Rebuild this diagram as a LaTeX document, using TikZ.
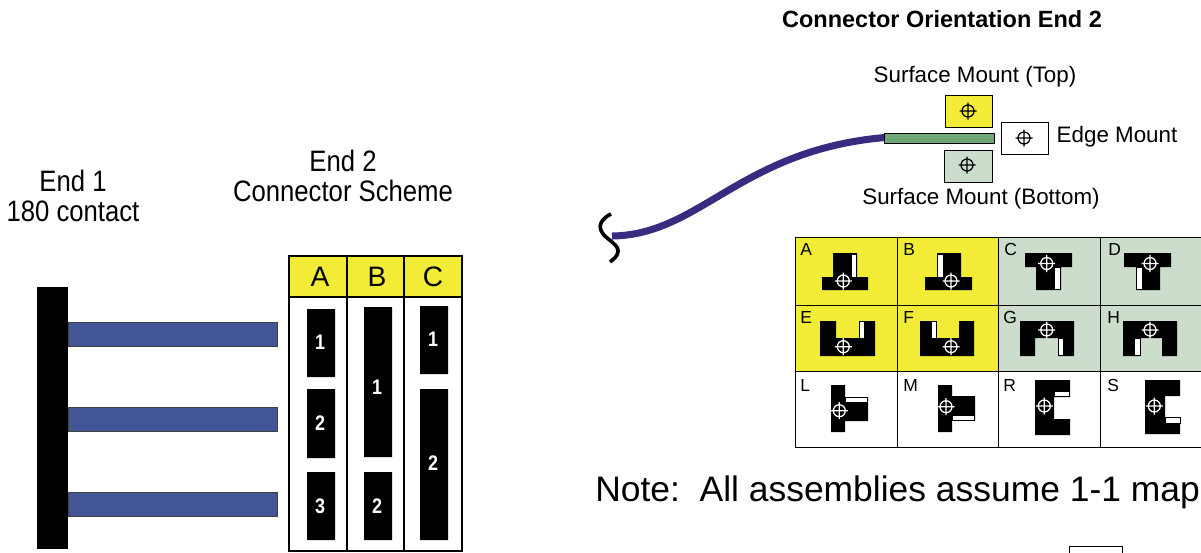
\documentclass[tikz,border=0pt]{standalone}
\usepackage{fontspec}
\setmainfont{Liberation Sans}
\newfontfamily\narrowfont[FakeStretch=0.87]{Liberation Sans}
\newfontfamily\slimfont[FakeStretch=0.85]{Liberation Sans}
\usepackage{tikz}

\definecolor{cellyellow}{HTML}{F2EC36}
\definecolor{cellgreen}{HTML}{CDDDCC}
\definecolor{legblue}{HTML}{425597}
\definecolor{cablepurple}{HTML}{3A2A80}
\definecolor{stripgreen}{HTML}{6FA876}

\tikzset{
  label22/.style={inner sep=0pt, font=\fontsize{15.9}{18}\selectfont},
  head/.style={inner sep=0pt, font=\narrowfont\fontsize{21}{24}\selectfont},
  letter/.style={inner sep=0pt, anchor=west, font=\fontsize{12.4}{14}\selectfont},
  colhead/.style={inner sep=0pt, font=\fontsize{20}{24}\selectfont},
  pin/.style={inner sep=0pt, text=white, font=\slimfont\bfseries\fontsize{15}{18}\selectfont},
  box/.style={draw=black, line width=0.7pt},
  leg/.style={draw=black!75, line width=0.7pt, fill=legblue},
  slot/.style={fill=white, draw=black, line width=0.4pt}
}

% crosshair: x, y, colour
\newcommand{\aim}[3]{
  \draw[#3, line width=0.9pt] (#1,#2) circle (6)
    (#1-8.5,#2) -- (#1+8.5,#2) (#1,#2-8.5) -- (#1,#2+8.5);
}

\begin{document}
\begin{tikzpicture}[x=0.025cm, y=-0.025cm]
      \useasboundingbox (0, 0) rectangle (1201, 552);

      % end 1 with its legs
      \node[head] (End1)    at (73, 181) {End 1};
      \node[head] (Contact) at (73, 211) {180 contact};
      \fill[black] (37, 287) rectangle (68, 549);
      \draw[leg] (68, 322) rectangle (277, 346);
      \draw[leg] (68, 407) rectangle (277, 431);
      \draw[leg] (68, 492) rectangle (277, 516);

      % connector scheme
      \node[head] (End2)   at (343, 161) {End 2};
      \node[head] (Scheme) at (343, 191) {Connector Scheme};
      \fill[cellyellow] (289, 256) rectangle (462, 297);
      \draw[box, line width=1.4pt] (289, 256) rectangle (462, 551);
      \draw[box, line width=1.4pt] (289, 297) -- (462, 297)
                (347, 256) -- (347, 551)
                (404, 256) -- (404, 551);
      \node[colhead] (HA) at (320, 277) {A};
      \node[colhead] (HB) at (377, 277) {B};
      \node[colhead] (HC) at (433, 277) {C};

      \fill[black] (307, 309) rectangle (335, 377)
                   (307, 389) rectangle (335, 458)
                   (307, 472) rectangle (335, 540)
                   (364, 307) rectangle (392, 457)
                   (364, 472) rectangle (392, 540)
                   (420, 306) rectangle (448, 374)
                   (420, 389) rectangle (448, 540);
      \node[pin] (A1) at (320, 342) {1};
      \node[pin] (A2) at (320, 423) {2};
      \node[pin] (A3) at (320, 506) {3};
      \node[pin] (B1) at (377, 387) {1};
      \node[pin] (B2) at (377, 506) {2};
      \node[pin] (C1) at (433, 339) {1};
      \node[pin] (C2) at (433, 463) {2};

      % orientation sketch
      \node[label22, font=\bfseries\fontsize{16.7}{18}\selectfont] (Title) at (942, 19) {Connector Orientation End 2};
      \node[label22] (Top)  at (975, 77)  {Surface Mount (Top)};
      \node[label22] (Bot)  at (981, 199) {Surface Mount (Bottom)};
      \node[label22] (Edge) at (1117, 137) {Edge Mount};

      \coordinate (CableA) at (612, 236);
      \coordinate (CableB) at (885, 137.5);
      \draw[cablepurple, line width=5pt] (CableA) .. controls (700, 235) and (740, 150) .. (CableB);
      \draw[black, line width=2.6pt] (611, 214) .. controls (595, 222) and (600, 232) .. (606, 237)
                .. controls (615, 245) and (626, 250) .. (610, 262);
      \draw[box, fill=stripgreen] (884, 133) rectangle (994, 143);

      \draw[box, fill=cellyellow] (945, 95) rectangle (992, 127);
      \aim{968}{111}{black}
      \draw[box] (1001, 122) rectangle (1048, 154);
      \aim{1024}{138}{black}
      \draw[box, fill=cellgreen] (944, 150) rectangle (992, 182);
      \aim{967}{165}{black}

      % orientation table
      \fill[cellyellow] (795, 237) rectangle (998, 371);
      \fill[cellgreen] (998, 237) rectangle (1203, 371);
      \draw[box] (795, 237) rectangle (1203, 447)
                (795, 305) -- (1203, 305)
                (795, 371) -- (1203, 371)
                (897, 237) -- (897, 447)
                (998, 237) -- (998, 447)
                (1100, 237) -- (1100, 447);

      \node[letter] (LA) at (800, 249) {A};
      \node[letter] (LB) at (903, 249) {B};
      \node[letter] (LC) at (1004, 249) {C};
      \node[letter] (LD) at (1108, 249) {D};
      \node[letter] (LE) at (800, 317) {E};
      \node[letter] (LF) at (903, 317) {F};
      \node[letter] (LG) at (1003, 317) {G};
      \node[letter] (LH) at (1107, 317) {H};
      \node[letter] (LL) at (800, 385) {L};
      \node[letter] (LM) at (903, 385) {M};
      \node[letter] (LR) at (1003, 385) {R};
      \node[letter] (LS) at (1107, 385) {S};

      % A B
      \fill[black] (833, 253) rectangle (857, 277) (822, 277) rectangle (868, 290);
      \draw[slot] (851, 254) rectangle (856.5, 277);
      \aim{843.3}{281}{white}
      \fill[black] (937, 253) rectangle (961, 277) (925, 277) rectangle (972, 290);
      \draw[slot] (937.5, 254) rectangle (943, 277);
      \aim{951}{281}{white}

      % C D
      \fill[black] (1025, 253) rectangle (1072, 267) (1036, 267) rectangle (1061, 290);
      \draw[slot] (1054.5, 267) rectangle (1060, 289);
      \aim{1046.7}{263.5}{white}
      \fill[black] (1124, 253) rectangle (1171, 267) (1136, 267) rectangle (1160, 290);
      \draw[slot] (1136.5, 267) rectangle (1142, 289);
      \aim{1150}{263.5}{white}

      % E F
      \fill[black] (820, 321) rectangle (836, 338) (859, 321) rectangle (875, 338)
                   (820, 338) rectangle (875, 356);
      \draw[slot] (859, 321) rectangle (864, 338);
      \aim{843.3}{346.7}{white}
      \fill[black] (920, 321) rectangle (936, 338) (959, 321) rectangle (974, 338)
                   (920, 338) rectangle (974, 356);
      \draw[slot] (931, 321) rectangle (936, 338);
      \aim{951}{346.7}{white}

      % G H
      \fill[black] (1020, 321) rectangle (1074, 338) (1020, 338) rectangle (1035, 356)
                   (1058, 338) rectangle (1074, 356);
      \draw[slot] (1058, 338) rectangle (1063.5, 355);
      \aim{1046.7}{330}{white}
      \fill[black] (1123, 321) rectangle (1177, 338) (1123, 338) rectangle (1140, 356)
                   (1162, 338) rectangle (1177, 356);
      \draw[slot] (1134.5, 338) rectangle (1140, 355);
      \aim{1150}{330}{white}

      % L M
      \fill[black] (831, 385) rectangle (845, 432) (845, 397) rectangle (868, 421);
      \draw[slot] (845, 397) rectangle (867, 402.5);
      \aim{839.3}{410.7}{white}
      \fill[black] (938, 385) rectangle (952, 432) (952, 396) rectangle (975, 420.5);
      \draw[slot] (952, 415) rectangle (974, 420);
      \aim{946}{406.7}{white}

      % R S
      \fill[black] (1035, 380) rectangle (1054, 435) (1054, 380) rectangle (1070, 397)
                   (1054, 419) rectangle (1070, 435);
      \draw[slot] (1054, 391) rectangle (1069, 396.5);
      \aim{1044.3}{406}{white}
      \fill[black] (1145, 380) rectangle (1165, 434) (1165, 380) rectangle (1180, 396)
                   (1165, 417) rectangle (1180, 434);
      \draw[slot] (1165, 417.5) rectangle (1180, 423.5);
      \aim{1154.3}{406}{white}

      % note
      \node[inner sep=0pt, anchor=west, font=\fontsize{25.2}{30}\selectfont] (Note) at (595, 492) {Note:\ \ All assemblies assume 1-1 map};
      \draw[box] (1069, 546) rectangle (1122, 560);
\end{tikzpicture}
\end{document}
